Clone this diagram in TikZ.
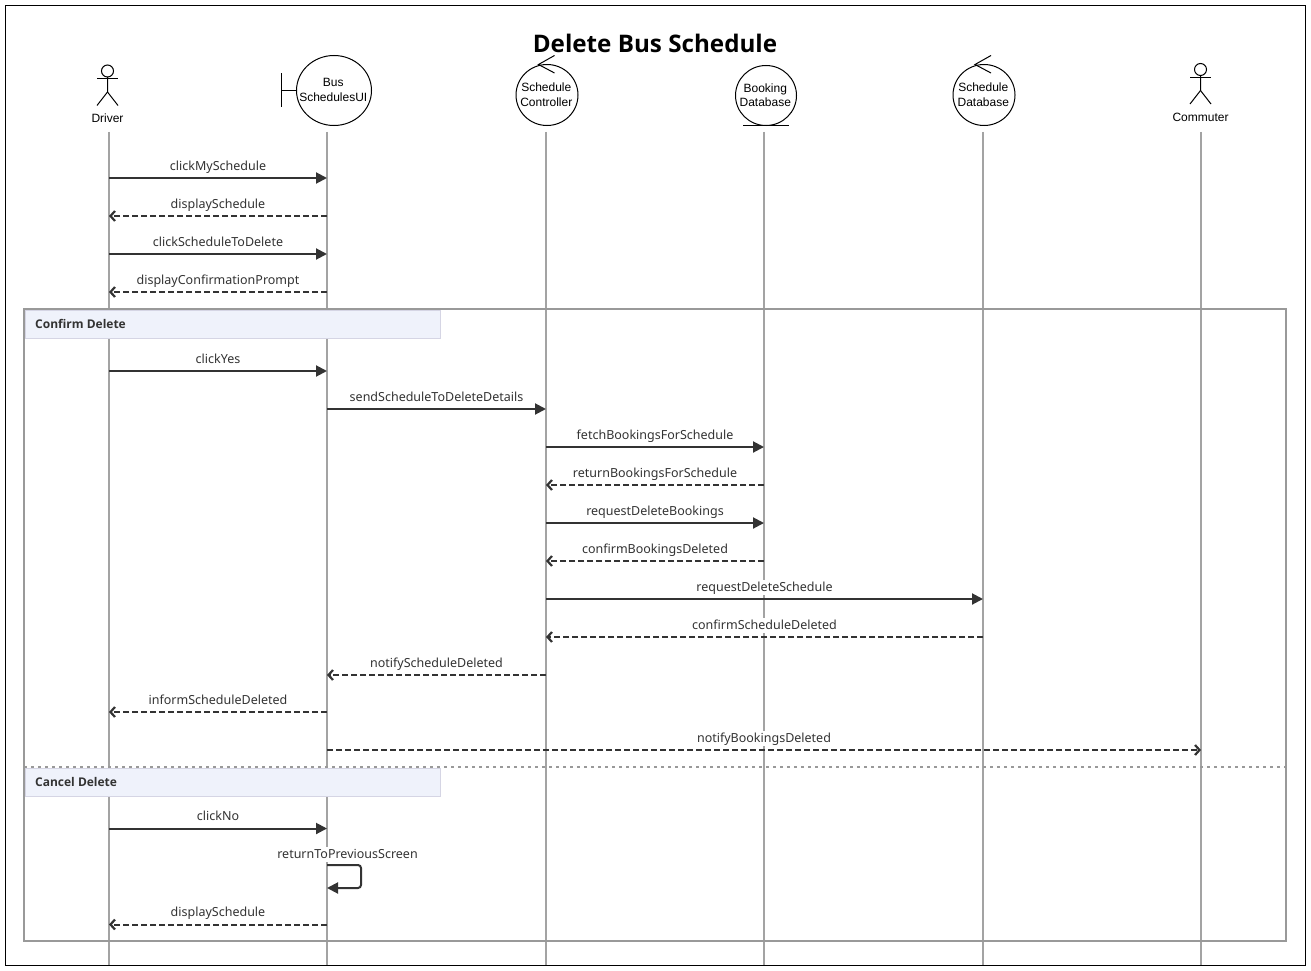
\documentclass[tikz,border=0pt]{standalone}
\usepackage{fontspec}
\setmainfont{Noto Sans}
\newfontfamily\actorfont{Liberation Sans}
\newfontfamily\heavyfont{Open Sans}
\usetikzlibrary{arrows.meta, positioning, shapes.geometric}
\definecolor{LifeG}  {HTML}{A3A3A3}
\definecolor{FrameG} {HTML}{999999}
\definecolor{MsgK}   {HTML}{333333}
\definecolor{HeadF}  {HTML}{EFF2FB}
\definecolor{HeadD}  {HTML}{D5D5E4}
\tikzset{
  life/.style={draw=LifeG, line width=2pt},
  frm/.style={draw=FrameG, line width=2.2pt},
  sep/.style={draw=FrameG, line width=2pt, dash pattern=on 3pt off 4pt},
  hdr/.style={
    rectangle, draw=HeadD, fill=HeadF, line width=0.8pt,
    minimum width=415pt, minimum height=28pt,
    anchor=north west, inner sep=0pt,
  },
  hdrtxt/.style={font=\heavyfont\bfseries\fontsize{12}{14}\selectfont, text=MsgK, anchor=west, inner sep=0pt},
  ttl/.style={font=\heavyfont\bfseries\fontsize{24.2}{30}\selectfont, text=black, inner sep=0pt},
  syn/.style={
    -{Stealth[length=11pt,width=11pt,inset=0pt]},
    line width=2pt, draw=MsgK,
  },
  rep/.style={
    -{Straight Barb[length=4.5pt,width=10pt,line width=2.2pt]},
    line width=2pt, draw=MsgK, dash pattern=on 6pt off 3pt,
  },
  msg/.style={
    font=\fontsize{12.5}{14}\selectfont, text=MsgK,
    fill=white, inner sep=1pt, text height=10pt, text depth=3pt,
  },
  mlab/.style={msg, midway, yshift=11.5pt},
  circ/.style={
    ellipse, draw=black, fill=white, line width=1pt, inner sep=0pt,
  },
  circtxt/.style={
    font=\actorfont\fontsize{12}{14.5}\selectfont, align=center, inner sep=0pt,
    xshift=-0.7pt, yshift=0.5pt,
  },
  actname/.style={font=\actorfont\fontsize{12}{14}\selectfont, inner sep=0pt},
  part/.style={draw=black, line width=1pt},
  % stick figure, origin at the centre of the head
  actorfig/.pic={
    \draw[part] (0,0) circle (6);
    \draw[part] (-10.5,8) -- (10.5,8);
    \draw[part] (0,6) -- (0,21) -- (-10.5,34.5);
    \draw[part] (0,21) -- (10.5,34.5);
  },
  % control symbol, origin at the tip
  ctrlfig/.pic={
    \draw[part] (16,-9) -- (0,0) -- (16,8.5);
  },
}

\begin{document}
\begin{tikzpicture}[x=1pt,y=-1pt]
  \useasboundingbox (0,0) rectangle (1311,971);
  \fill[white] (0,0) rectangle (1311,971);

  \foreach \nm/\xx in {dr/109,ui/327,sc/546,bd/764,sd/983,cm/1201}{
    \coordinate (\nm) at (\xx,132);
    \coordinate (\nm b) at (\xx,965);
    \draw[life] (\nm)--(\nm b);
  }

  % frame and the two sections
  \coordinate (fa) at (24,309);
  \coordinate (fb) at (1286,941);
  \draw[frm] (fa) rectangle (fb);
  \node[hdr] (hc) at (24.5,310) {};
  \node[hdrtxt] (hct) at (35,324) {Confirm Delete};
  \coordinate (da) at (24,766.5);
  \coordinate (db) at (1286,766.5);
  \draw[sep] (da)--(db);
  \node[hdr] (hx) at (24.5,767.5) {};
  \node[hdrtxt] (hxt) at (35,782) {Cancel Delete};

  \node[ttl] (title) at (655,43) {Delete Bus Schedule};

  % participants
  \pic at (107.5,71) {actorfig};
  \node[actname] (drn) at (107.5,118.5) {Driver};
  \node[circ, minimum width=75pt, minimum height=70pt] (uic) at (334,90.5) {};
  \node[circtxt] (uit) at (uic) {Bus\\SchedulesUI};
  \coordinate (uib) at (281.5,90.5);
  \draw[part] (281.5,73.5) -- (281.5,107.5);
  \draw[part] (uib) -- (uic);
  \node[circ, minimum width=62pt, minimum height=61pt] (scc) at (547,95) {};
  \node[circtxt] (sct) at (scc) {Schedule\\Controller};
  \pic at (538.5,64.5) {ctrlfig};
  \node[circ, minimum width=61pt, minimum height=60pt] (bdc) at (766,95.5) {};
  \node[circtxt] (bdt) at (bdc) {Booking\\Database};
  \coordinate (bda) at (743,125.5);
  \coordinate (bdz) at (789,125.5);
  \draw[part] (bda)--(bdz);
  \node[circ, minimum width=62pt, minimum height=61pt] (sdc) at (984,95) {};
  \node[circtxt] (sdt) at (sdc) {Schedule\\Database};
  \pic at (975,64.5) {ctrlfig};
  \pic at (1200.5,69.5) {actorfig};
  \node[actname] (cmn) at (1200.5,117.5) {Commuter};

  % before the alternatives
  \draw[syn] (dr |- 0,178) -- node[mlab] (m1) {clickMySchedule} (ui |- 0,178);
  \draw[rep] (ui |- 0,216) -- node[mlab] (m2) {displaySchedule} (dr |- 0,216);
  \draw[syn] (dr |- 0,254) -- node[mlab] (m3) {clickScheduleToDelete} (ui |- 0,254);
  \draw[rep] (ui |- 0,292) -- node[mlab] (m4) {displayConfirmationPrompt} (dr |- 0,292);

  % confirm
  \draw[syn] (dr |- 0,371) -- node[mlab] (m5) {clickYes} (ui |- 0,371);
  \draw[syn] (ui |- 0,409) -- node[mlab] (m6) {sendScheduleToDeleteDetails} (sc |- 0,409);
  \draw[syn] (sc |- 0,447) -- node[mlab] (m7) {fetchBookingsForSchedule} (bd |- 0,447);
  \draw[rep] (bd |- 0,485) -- node[mlab] (m8) {returnBookingsForSchedule} (sc |- 0,485);
  \draw[syn] (sc |- 0,523) -- node[mlab] (m9) {requestDeleteBookings} (bd |- 0,523);
  \draw[rep] (bd |- 0,561) -- node[mlab] (m10) {confirmBookingsDeleted} (sc |- 0,561);
  \draw[syn] (sc |- 0,599) -- node[mlab] (m11) {requestDeleteSchedule} (sd |- 0,599);
  \draw[rep] (sd |- 0,637) -- node[mlab] (m12) {confirmScheduleDeleted} (sc |- 0,637);
  \draw[rep] (sc |- 0,675) -- node[mlab] (m13) {notifyScheduleDeleted} (ui |- 0,675);
  \draw[rep] (ui |- 0,712) -- node[mlab] (m14) {informScheduleDeleted} (dr |- 0,712);
  \draw[rep] (ui |- 0,750) -- node[mlab] (m15) {notifyBookingsDeleted} (cm |- 0,750);

  % cancel
  \draw[syn] (dr |- 0,828.5) -- node[mlab] (m16) {clickNo} (ui |- 0,828.5);
  \node[msg] (m17) at (347.5,854.5) {returnToPreviousScreen};
  \draw[syn, rounded corners=3pt] (ui |- 0,865) -- ++(34,0) -- ++(0,23) -- (ui |- 0,888);
  \draw[rep] (ui |- 0,924.5) -- node[mlab] (m18) {displaySchedule} (dr |- 0,924.5);

  % outer border
  \draw[black, line width=1pt] (5.5,5.5) rectangle (1305,965.5);
\end{tikzpicture}
\end{document}
